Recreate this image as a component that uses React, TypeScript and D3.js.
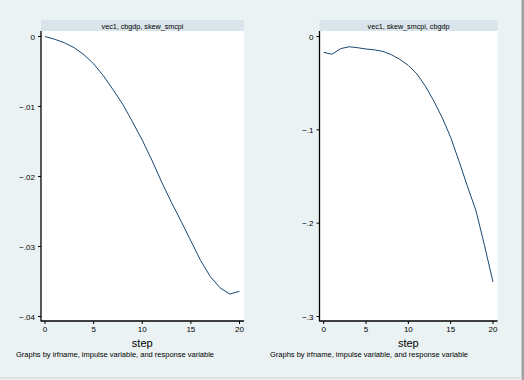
import React from "react";
import * as d3 from "d3";

const steps = d3.range(0, 21);
const leftValues = [0, -0.0004, -0.0009, -0.0016, -0.0026, -0.0039, -0.0056, -0.0076, -0.0097, -0.0122, -0.0148, -0.0177, -0.0208, -0.0237, -0.0264, -0.0292, -0.032, -0.0343, -0.0359, -0.0368, -0.0364];
const rightValues = [-0.017, -0.019, -0.013, -0.011, -0.012, -0.0134, -0.0143, -0.016, -0.0195, -0.0245, -0.031, -0.04, -0.053, -0.069, -0.087, -0.108, -0.134, -0.161, -0.187, -0.224, -0.263];
const xTicks = [0, 5, 10, 15, 20];
const leftYTicks = [0, -0.01, -0.02, -0.03, -0.04];
const rightYTicks = [0, -0.1, -0.2, -0.3];
const leftTitle = "vec1, cbgdp, skew_smcpi";
const rightTitle = "vec1, skew_smcpi, cbgdp";
const xTitle = "step";
const note = "Graphs by irfname, impulse variable, and response variable";

const fmt = (v: number) => (v === 0 ? "0" : d3.format(".2~f")(v).replace("0.", "."));

type PanelProps = {
  x0: number; x1: number; px0: number; px1: number;
  values: number[]; yTicks: number[]; yMin: number; title: string; noteX: number;
};

function Panel({ x0, x1, px0, px1, values, yTicks, yMin, title, noteX }: PanelProps) {
  const xs = d3.scaleLinear().domain([0, 20]).range([px0, px1]);
  const ys = d3.scaleLinear().domain([0, yMin]).range([36.5, 316.5]);
  const line = d3.line<number>().x((_, i) => xs(steps[i])).y((d) => ys(d));
  const axisY = 321;
  const font = "Arial, 'Liberation Sans', sans-serif";
  return (
    <g>
      <rect x={x0} y={20} width={x1 - x0} height={11} fill="#d9e5eb" />
      <text x={(x0 + x1) / 2} y={28.5} fontSize={7.2} textAnchor="middle" fill="#000" fontFamily={font}>{title}</text>
      <rect x={x0} y={31} width={x1 - x0} height={axisY - 31} fill="#fff" />
      <path d={line(values) || ""} fill="none" stroke="#1a476f" strokeWidth={1} />
      <line x1={x0} x2={x0} y1={31} y2={axisY + 0.5} stroke="#000" strokeWidth={1.3} />
      <line x1={x0} x2={x1} y1={axisY} y2={axisY} stroke="#000" strokeWidth={1.3} />
      {yTicks.map((t) => (
        <g key={t}>
          <line x1={x0 - 3} x2={x0} y1={ys(t)} y2={ys(t)} stroke="#000" />
          <text x={x0 - 6} y={ys(t) + 3} fontSize={8} textAnchor="end" fontFamily={font}>{fmt(t)}</text>
        </g>
      ))}
      {xTicks.map((t) => (
        <g key={t}>
          <line x1={xs(t)} x2={xs(t)} y1={axisY} y2={axisY + 3} stroke="#000" />
          <text x={xs(t)} y={332} fontSize={8} textAnchor="middle" fontFamily={font}>{t}</text>
        </g>
      ))}
      <text x={(px0 + px1) / 2} y={347} fontSize={11} textAnchor="middle" fontFamily={font}>{xTitle}</text>
      <text x={noteX} y={357} fontSize={7.5} fontFamily={font}>{note}</text>
    </g>
  );
}

export default function App() {
  return (
    <svg width={524} height={380} style={{ position: "absolute", left: 0, top: 0 }}>
      <rect x={0} y={0} width={524} height={380} fill="#eaf2f3" />
      <rect x={521.5} y={0} width={2.5} height={380} fill="#a0a0a0" />
      <rect x={0} y={377} width={522} height={1.5} fill="#dcdcdc" />
      <Panel x0={41} x1={244} px0={45} px1={239.5} values={leftValues} yTicks={leftYTicks} yMin={-0.04} title={leftTitle} noteX={16} />
      <Panel x0={319.5} x1={497.5} px0={323.7} px1={493} values={rightValues} yTicks={rightYTicks} yMin={-0.3} title={rightTitle} noteX={270} />
    </svg>
  );
}
